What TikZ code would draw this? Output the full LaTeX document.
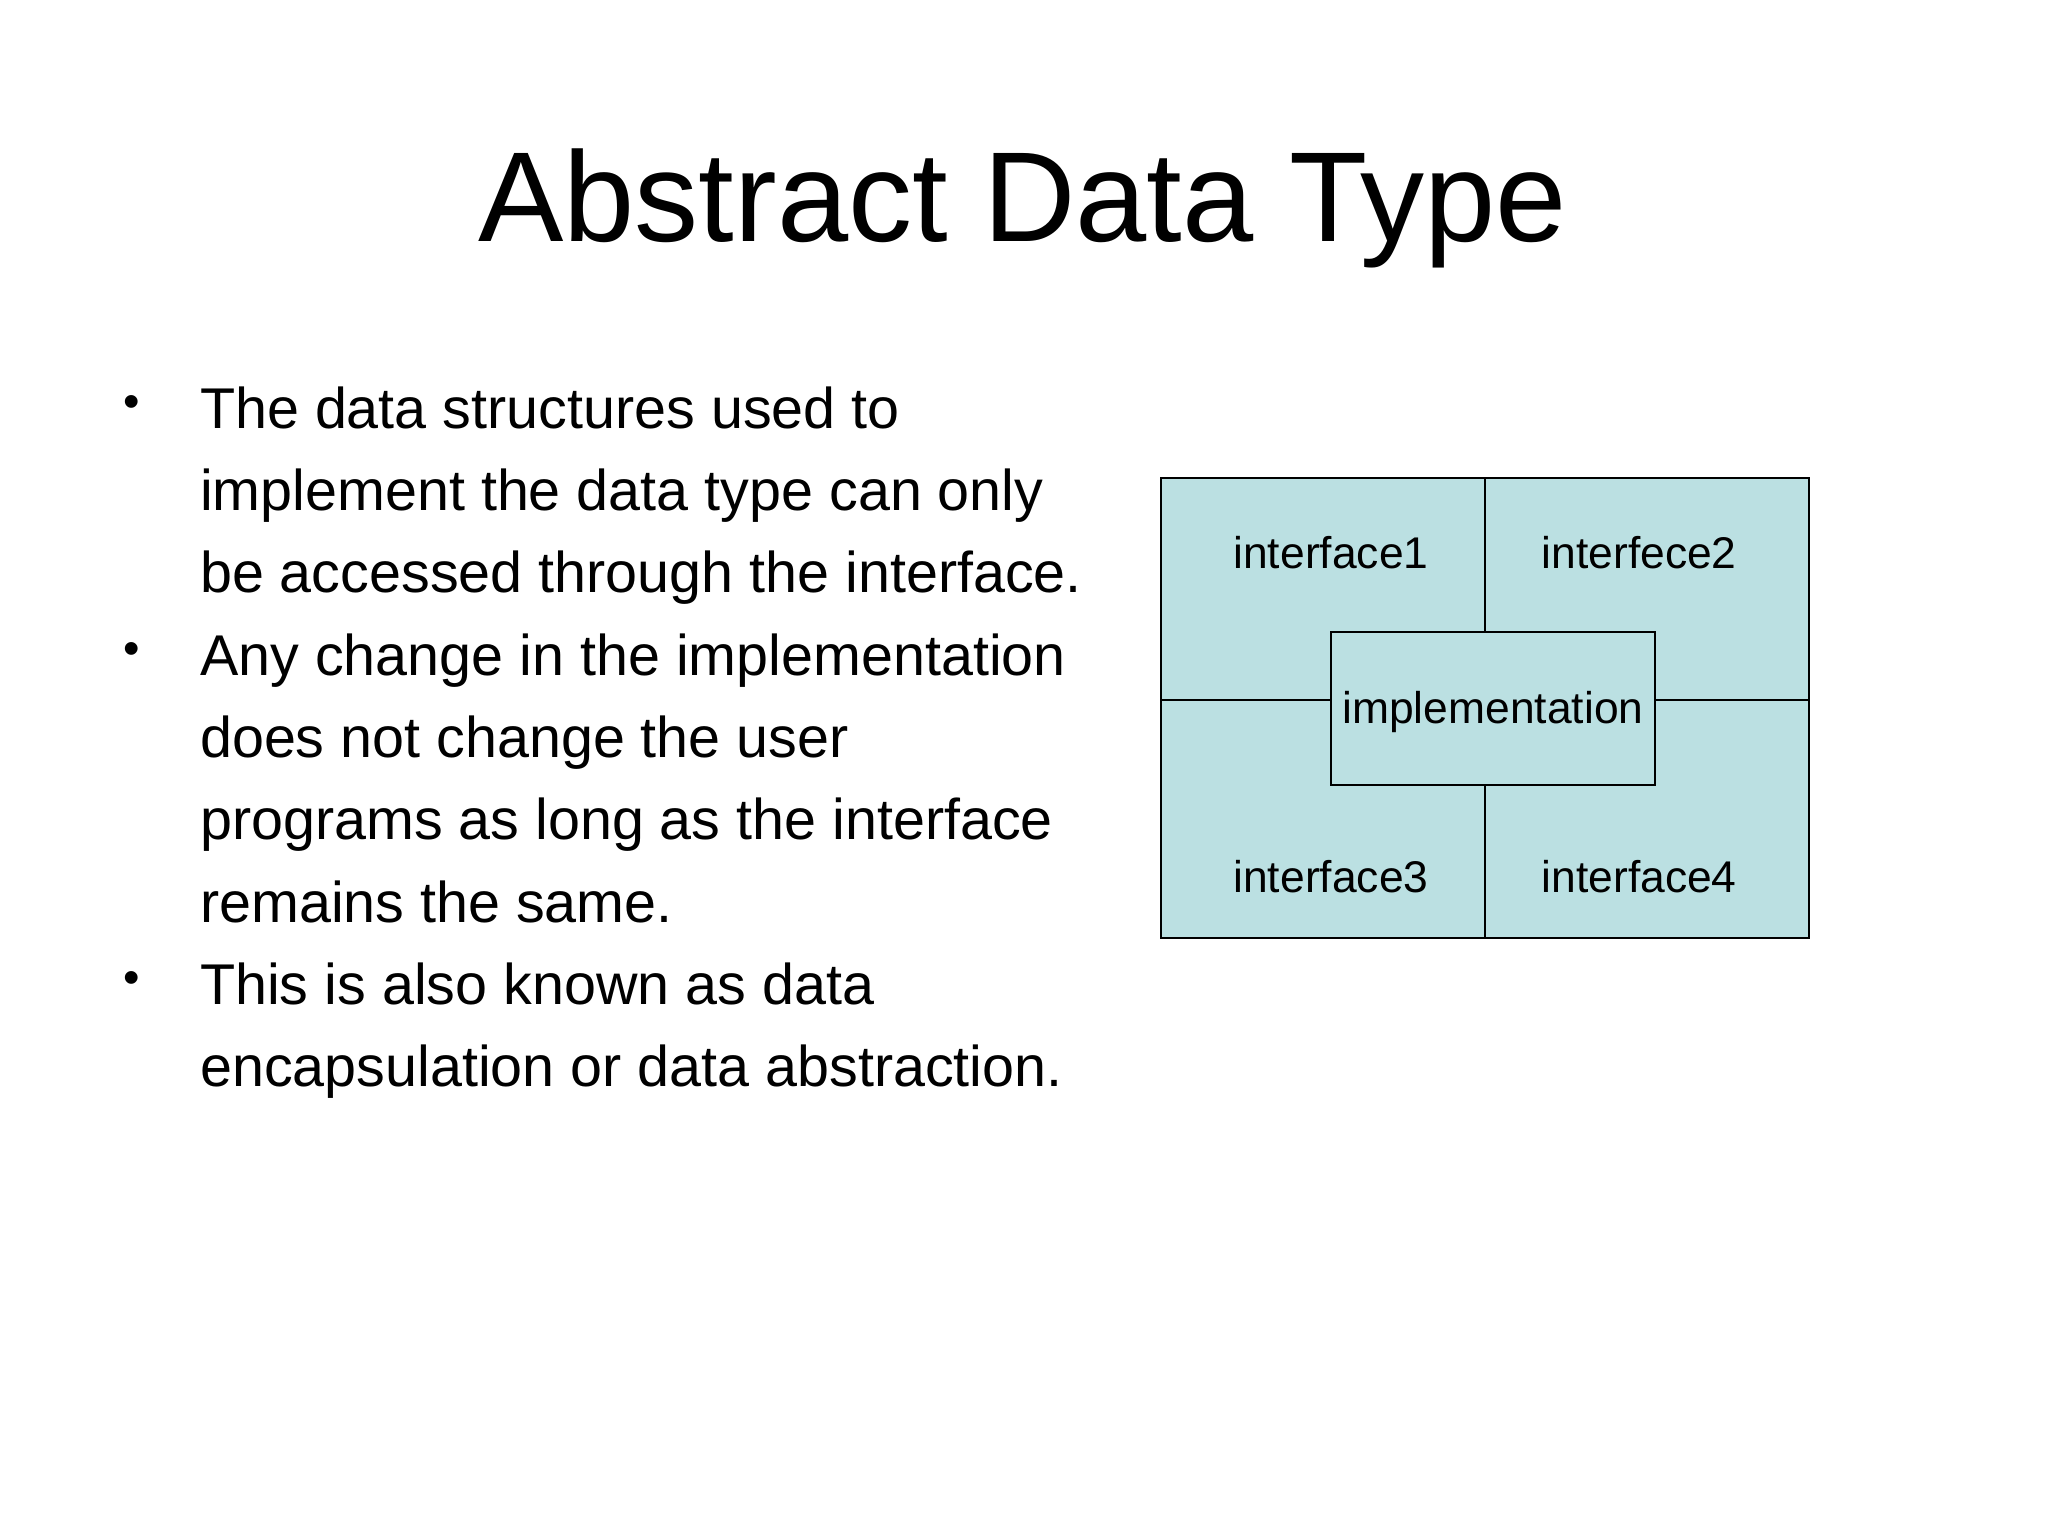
\documentclass[tikz,border=0pt]{standalone}
\usepackage{fontspec}
\setmainfont{Liberation Sans}
\definecolor{boxfill}{RGB}{187,224,226}
\begin{document}
\begin{tikzpicture}[x=1pt,y=-1pt,
  cell/.style={draw=black,fill=boxfill,line width=1.2pt},
  lbl/.style={font=\fontsize{34}{40}\selectfont,inner sep=0pt},
  btxt/.style={anchor=base west,inner sep=0pt,font=\fontsize{44}{63}\selectfont},
  bul/.style={anchor=base,inner sep=0pt,font=\fontsize{36}{40}\selectfont}]
\useasboundingbox[fill=white] (0,0) rectangle (1568,1176);
\node[anchor=base,inner sep=0pt,font=\fontsize{98}{110}\selectfont] (title) at (783,185) {Abstract Data Type};
% bullets
\foreach \y/\t [count=\i] in {328/{The data structures used to},391/{implement the data type can only},454/{be accessed through the interface.},517/{Any change in the implementation},580/{does not change the user},643/{programs as long as the interface},706/{remains the same.},769/{This is also known as data},832/{encapsulation or data abstraction.}}
  \node[btxt] (l\i) at (153,\y) {\t};
\foreach \y [count=\i] in {320,509,761} \node[bul] (b\i) at (101,\y) {•};
% diagram
\draw[cell] (889,366) rectangle (1385,718);
\coordinate (vt) at (1137,366); \coordinate (vb) at (1137,718);
\coordinate (hl) at (889,536); \coordinate (hr) at (1385,536);
\draw[line width=1.2pt] (vt) -- (vb) (hl) -- (hr);
\node[cell,minimum width=248pt,minimum height=117pt,inner sep=0pt] (impl) at (1143,542.5) {};
\node[lbl] (i1) at (1019,423) {interface1};
\node[lbl] (i2) at (1255,423) {interfece2};
\node[lbl] (im) at (1143,545) {implementation};
\node[lbl] (i3) at (1019,671) {interface3};
\node[lbl] (i4) at (1255,671) {interface4};
\end{tikzpicture}
\end{document}
